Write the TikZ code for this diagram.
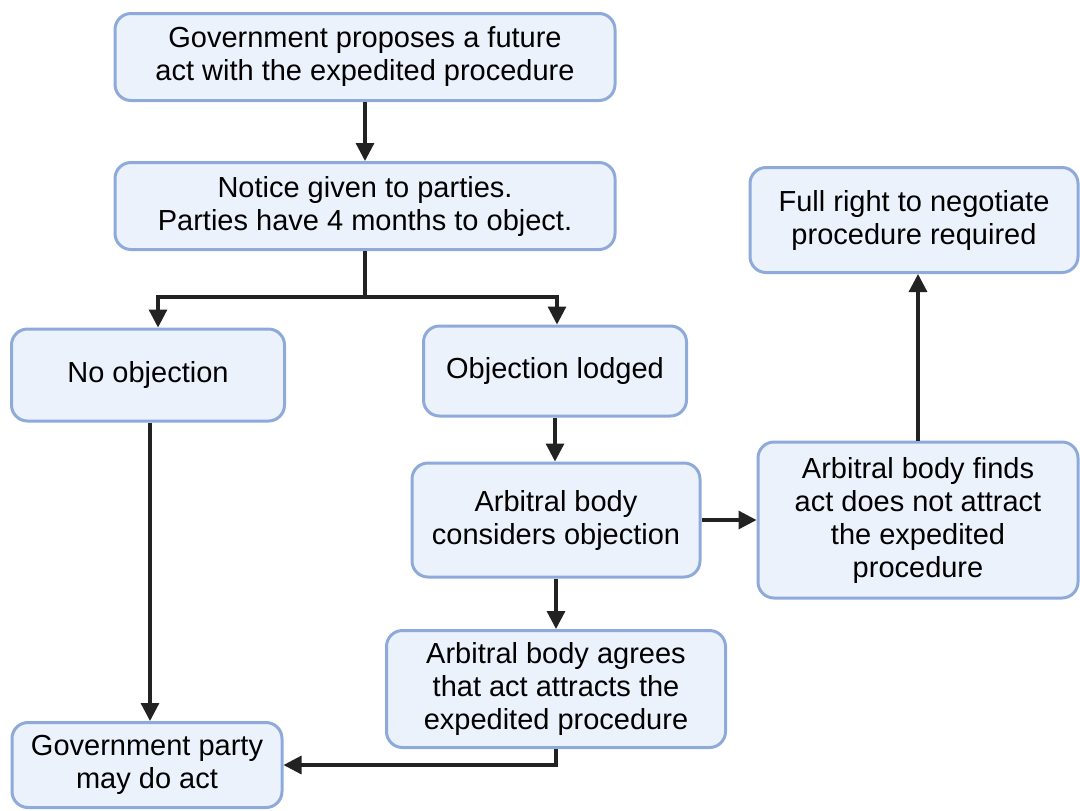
\documentclass[tikz,border=0pt]{standalone}
\usepackage{fontspec}
\setmainfont{Liberation Sans}
\usetikzlibrary{arrows.meta,calc,positioning}
\definecolor{boxfill}{HTML}{EBF2FC}
\definecolor{boxline}{HTML}{8EAADB}
\definecolor{arrowgray}{HTML}{222222}
\tikzset{
  box/.style={draw=boxline, fill=boxfill, line width=1.5pt, rounded corners=8pt,
    align=center, inner sep=0pt, font=\fontsize{14.5}{16.5}\selectfont},
  arrow/.style={-{Triangle[length=9pt, width=9pt]}, line width=1.6pt, draw=arrowgray},
}

\begin{document}
\begin{tikzpicture}[x=0.5pt, y=-0.5pt]

  \useasboundingbox (0,0) rectangle (1080,810);

  % Boxes (coordinates in pixels of the layout)
  \node[box, minimum width=250pt, minimum height=43.5pt] (propose) at (365,57)
    {Government proposes a future\\act with the expedited procedure};
  \node[box, minimum width=250pt, minimum height=43.5pt] (notice) at (365,206)
    {Notice given to parties.\\Parties have 4 months to object.};
  \node[box, minimum width=136.5pt, minimum height=46pt] (noobj) at (148,375)
    {No objection};
  \node[box, minimum width=131.5pt, minimum height=45pt] (lodged) at (555,371)
    {Objection lodged};
  \node[box, minimum width=144pt, minimum height=57pt] (considers) at (556,520)
    {Arbitral body\\considers objection};
  \node[box, minimum width=169.5pt, minimum height=58.5pt] (agrees) at (556,689)
    {Arbitral body agrees\\that act attracts the\\expedited procedure};
  \node[box, minimum width=135pt, minimum height=42.5pt] (mayact) at (147,765)
    {Government party\\may do act};
  \node[box, minimum width=164pt, minimum height=52.5pt] (fullright) at (914,220)
    {Full right to negotiate\\procedure required};
  \node[box, minimum width=160pt, minimum height=78pt] (finds) at (918,520)
    {Arbitral body finds\\act does not attract\\the expedited\\procedure};

  % Arrows
  \draw[arrow] (propose) -- (notice);
  \coordinate (split) at (365,297);
  \draw[line width=1.6pt, draw=arrowgray] (notice.south) -- (split);
  \draw[arrow] (split) -| ([xshift=5pt]noobj.north);
  \draw[arrow] (split) -| ([xshift=1pt]lodged.north);
  \draw[arrow] ([xshift=1pt]noobj.south) -- ([xshift=1pt]noobj.south |- mayact.north);
  \draw[arrow] (lodged.south) -- (lodged.south |- considers.north);
  \draw[arrow] (considers.south) -- (considers.south |- agrees.north);
  \draw[arrow] (agrees.south) |- (mayact.east);
  \draw[arrow] (considers.east) -- (finds.west);
  \draw[arrow] (finds.north) -- (finds.north |- fullright.south);

\end{tikzpicture}
\end{document}
